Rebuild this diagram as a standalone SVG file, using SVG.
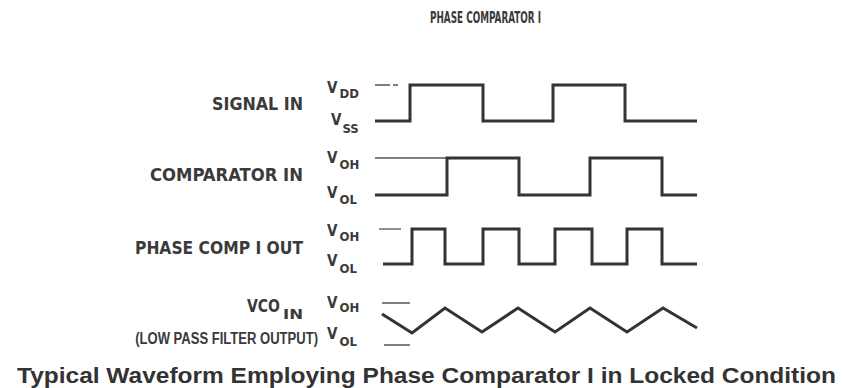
<svg xmlns="http://www.w3.org/2000/svg" width="843" height="388" viewBox="0 0 843 388">
<style>
.lbl{font-family:"DejaVu Sans Condensed","Liberation Sans",sans-serif;font-weight:bold;font-size:17px;fill:#3a3a3a}
.v{font-family:"DejaVu Sans Condensed","Liberation Sans",sans-serif;font-weight:bold;font-size:15px;fill:#3a3a3a}
.sub{font-size:13px}
.wave{fill:none;stroke:#333;stroke-width:3;stroke-linejoin:miter}
.ref{fill:none;stroke:#555;stroke-width:1.3}
.cap{font-family:"Liberation Sans",Arial,sans-serif;font-weight:bold;font-size:22px;fill:#333}
</style>
<rect width="843" height="388" fill="#fff"/>
<text class="lbl" x="430" y="23" style="font-size:15px" textLength="111" lengthAdjust="spacingAndGlyphs">PHASE COMPARATOR I</text>

<g id="signal-in">
<text class="lbl" x="303" y="110" text-anchor="end" textLength="91" lengthAdjust="spacingAndGlyphs">SIGNAL IN</text>
<text class="v" x="327" y="93">V<tspan class="sub" dx="2" dy="5">DD</tspan></text>
<text class="v" x="331" y="125">V<tspan class="sub" dx="1" dy="8">SS</tspan></text>
<path class="ref" d="M375,85 H390 M393,85 H398"/>
<path class="wave" d="M375,121 H410 V85 H483 V121 H553 V85 H625 V121 H697"/>
</g>

<g id="comparator-in">
<text class="lbl" x="303" y="181" text-anchor="end" textLength="153" lengthAdjust="spacingAndGlyphs">COMPARATOR IN</text>
<text class="v" x="327" y="163">V<tspan class="sub" dx="2" dy="6">OH</tspan></text>
<text class="v" x="327" y="198">V<tspan class="sub" dx="2" dy="6">OL</tspan></text>
<path class="ref" d="M375,158 H447"/>
<path class="wave" d="M375,195 H447 V158 H519 V195 H590 V158 H662 V195 H697"/>
</g>

<g id="phase-comp-out">
<text class="lbl" x="303" y="254" text-anchor="end" textLength="168" lengthAdjust="spacingAndGlyphs">PHASE COMP I OUT</text>
<text class="v" x="327" y="236">V<tspan class="sub" dx="2" dy="5">OH</tspan></text>
<text class="v" x="327" y="266">V<tspan class="sub" dx="2" dy="7">OL</tspan></text>
<path class="ref" d="M379,229 H401"/>
<path class="wave" d="M383,264 H412 V229 H445 V264 H483 V229 H519 V264 H555 V229 H592 V264 H627 V229 H662 V264 H697"/>
</g>

<g id="vco-in">
<text class="lbl" x="280" y="312" text-anchor="end" textLength="33" lengthAdjust="spacingAndGlyphs">VCO</text>
<text class="lbl" x="283" y="319" style="font-size:14px" textLength="20" lengthAdjust="spacingAndGlyphs">IN</text>
<text class="lbl" transform="translate(318,344) scale(0.768,1)" x="0" y="0" text-anchor="end" style="font-family:'Liberation Sans',Arial,sans-serif">(LOW PASS FILTER OUTPUT)</text>
<text class="v" x="327" y="308">V<tspan class="sub" dx="2" dy="4">OH</tspan></text>
<text class="v" x="327" y="339">V<tspan class="sub" dx="2" dy="7">OL</tspan></text>
<path class="ref" d="M382,303 H410 M384,345 H410"/>
<path class="wave" d="M382,314 L412,333 L445,308 L482,332 L518,308 L555,332 L590,308 L627,332 L663,308 L697,328"/>
</g>

<text class="cap" x="17" y="383" textLength="819" lengthAdjust="spacingAndGlyphs">Typical Waveform Employing Phase Comparator I in Locked Condition</text>
</svg>
